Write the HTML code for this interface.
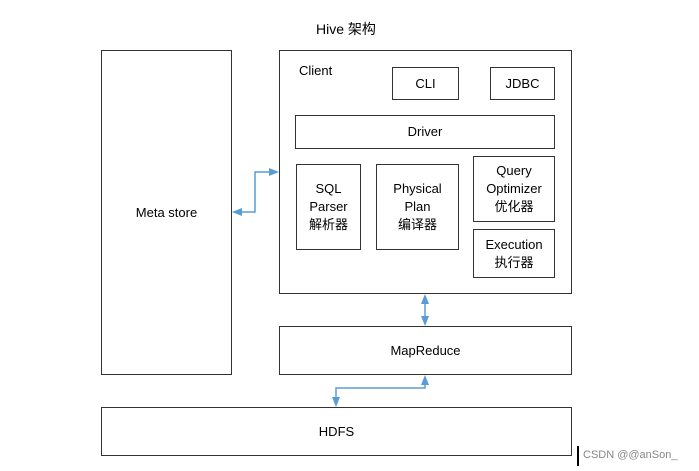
<!DOCTYPE html>
<html><head><meta charset="utf-8"><style>
html,body{margin:0;padding:0;background:#fff;width:699px;height:471px;overflow:hidden;position:relative;font-family:"Liberation Sans","Noto Sans CJK SC",sans-serif;color:#000}
.b{position:absolute;box-sizing:border-box;border:1.5px solid #333;background:#fff;display:flex;align-items:center;justify-content:center;text-align:center;font-size:13px;line-height:18px}
.t{position:absolute;font-size:13px}
</style></head><body>
<div class="t" style="left:316px;top:19px;font-size:14px">Hive 架构</div>
<div class="b" style="left:101px;top:50px;width:131px;height:325px">Meta store</div>
<div class="b" style="left:279px;top:50px;width:293px;height:244px"></div>
<div class="t" style="left:299px;top:63px">Client</div>
<div class="b" style="left:392px;top:67px;width:67px;height:33px">CLI</div>
<div class="b" style="left:490px;top:67px;width:65px;height:33px">JDBC</div>
<div class="b" style="left:295px;top:115px;width:260px;height:34px">Driver</div>
<div class="b" style="left:296px;top:164px;width:65px;height:86px">SQL<br>Parser<br>解析器</div>
<div class="b" style="left:376px;top:164px;width:83px;height:86px">Physical<br>Plan<br>编译器</div>
<div class="b" style="left:473px;top:156px;width:82px;height:66px">Query<br>Optimizer<br>优化器</div>
<div class="b" style="left:473px;top:229px;width:82px;height:49px">Execution<br>执行器</div>
<div class="b" style="left:279px;top:326px;width:293px;height:49px">MapReduce</div>
<div class="b" style="left:101px;top:407px;width:471px;height:49px">HDFS</div>
<svg width="699" height="471" style="position:absolute;left:0;top:0">
<g stroke="#5b9bd5" stroke-width="1.5" fill="none">
<polyline points="240,212 255,212 255,172 271,172"/>
<line x1="425" y1="302" x2="425" y2="318"/>
<polyline points="425,385 425,388 336,388 336,398"/>
</g>
<g fill="#5b9bd5">
<polygon points="232,212 242,208 242,216"/>
<polygon points="279,172 269,168 269,176"/>
<polygon points="425,294 421,304 429,304"/>
<polygon points="425,326 421,316 429,316"/>
<polygon points="425,375 421,385 429,385"/>
<polygon points="336,407 332,397 340,397"/>
</g>
<rect x="577" y="446" width="2" height="20" fill="#000"/>
<text x="583" y="458" font-size="11" fill="#888" font-family="Liberation Sans, sans-serif">CSDN @@anSon_</text>
</svg>
</body></html>
